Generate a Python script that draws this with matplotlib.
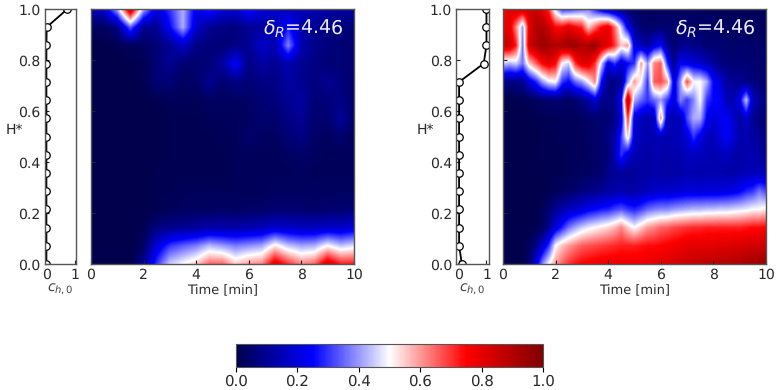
import numpy as np
import matplotlib
matplotlib.use("Agg")
import matplotlib.pyplot as plt

W, H_PX = 778, 390
INK = "#2a2a2a"
SPINE = "#555555"

heights = [1.0, 0.929, 0.857, 0.786, 0.714, 0.643, 0.571, 0.5, 0.429, 0.357, 0.286, 0.214, 0.143, 0.071, 0.0]
conc_left = [0.74, 0.01, 0.0, 0.0, 0.0, 0.0, 0.0, 0.0, 0.0, 0.0, 0.0, 0.0, 0.0, 0.0, 0.0]
conc_right = [1.0, 1.0, 1.0, 0.9, 0.02, 0.02, 0.02, 0.02, 0.02, 0.02, 0.02, 0.02, 0.02, 0.02, 0.12]

time_left = [i * 0.5 for i in range(21)]
left_rows = [
    [.16,.18,.42,.88,.42,.20,.30,.42,.22,.28,.20,.20,.27,.20,.18,.15,.15,.15,.12,.12,.12],
    [.03,.03,.08,.34,.10,.10,.25,.42,.18,.10,.08,.07,.10,.12,.14,.27,.14,.10,.08,.07,.06],
    [.00,.00,.01,.02,.03,.06,.10,.17,.08,.07,.06,.08,.10,.18,.14,.38,.14,.09,.07,.06,.05],
    [.00,.00,.00,.01,.01,.06,.10,.05,.05,.06,.12,.25,.08,.12,.10,.14,.10,.08,.06,.06,.05],
    [.00,.00,.00,.00,.01,.06,.06,.03,.04,.10,.05,.08,.06,.08,.08,.12,.10,.07,.10,.07,.04],
    [.00,.00,.00,.00,.00,.01,.02,.02,.02,.03,.03,.03,.04,.06,.07,.10,.12,.06,.07,.08,.04],
    [.00,.00,.00,.00,.00,.00,.01,.01,.01,.02,.02,.02,.03,.05,.05,.08,.10,.05,.05,.11,.04],
    [.00,.00,.00,.00,.00,.00,.01,.01,.01,.01,.02,.02,.05,.03,.03,.06,.08,.04,.03,.05,.02],
    [.00,.00,.00,.00,.00,.00,.01,.01,.01,.01,.01,.02,.02,.02,.02,.03,.04,.03,.02,.02,.02],
    [.00,.00,.00,.00,.00,.01,.01,.01,.01,.01,.01,.02,.02,.02,.02,.02,.03,.02,.02,.02,.02],
    [.00,.00,.00,.00,.00,.01,.01,.02,.02,.02,.02,.02,.02,.02,.03,.03,.03,.03,.03,.03,.03],
    [.00,.00,.00,.00,.00,.01,.02,.03,.03,.03,.04,.03,.04,.04,.05,.05,.05,.04,.05,.05,.06],
    [.00,.00,.00,.00,.01,.07,.09,.10,.11,.13,.13,.13,.14,.15,.18,.17,.16,.16,.17,.17,.20],
    [.00,.00,.00,.00,.03,.20,.30,.34,.37,.43,.40,.37,.39,.41,.52,.44,.41,.42,.50,.44,.47],
    [.00,.00,.00,.00,.10,.30,.45,.50,.55,.65,.65,.55,.60,.62,.80,.70,.62,.65,.82,.72,.72],
]

time_right = [i * 0.25 for i in range(41)]
right_rows = [
    [.75,.80,.85,.85,.85,.85,.80,.70,.45,.30,.30,.33,.35,.38,.28,.20,.13,.10,.07,.04,.03,.03,.03,.03,.03,.03,.03,.03,.03,.03,.03,.03,.02,.02,.02,.02,.02,.02,.02,.02,.02],
    [.78,.80,.62,.40,.80,.90,.90,.85,.75,.75,.80,.75,.72,.55,.65,.75,.80,.65,.45,.22,.10,.05,.04,.04,.05,.05,.05,.05,.05,.04,.04,.04,.04,.04,.03,.03,.03,.03,.03,.03,.03],
    [.85,.85,.72,.36,.85,.90,.95,.92,.90,.92,.95,.95,.90,.92,.95,.85,.80,.70,.55,.60,.20,.15,.12,.20,.25,.10,.05,.08,.10,.08,.08,.05,.05,.05,.05,.04,.05,.05,.04,.04,.04],
    [.45,.42,.45,.36,.55,.65,.75,.80,.75,.50,.45,.70,.80,.80,.70,.45,.20,.30,.18,.25,.30,.60,.40,.62,.66,.30,.08,.25,.22,.20,.18,.15,.12,.08,.07,.06,.06,.06,.05,.05,.05],
    [.08,.08,.08,.10,.20,.28,.40,.48,.50,.30,.25,.35,.40,.50,.62,.25,.08,.08,.10,.40,.60,.50,.30,.66,.68,.60,.20,.40,.68,.50,.50,.42,.25,.20,.12,.10,.10,.08,.07,.06,.05],
    [.00,.00,.01,.01,.02,.03,.04,.05,.05,.05,.04,.05,.08,.12,.20,.10,.08,.10,.25,.90,.42,.35,.30,.35,.40,.30,.20,.38,.30,.38,.50,.30,.25,.25,.15,.14,.22,.45,.16,.10,.08],
    [.00,.00,.00,.00,.00,.01,.01,.02,.02,.02,.02,.02,.03,.04,.05,.05,.06,.08,.20,.70,.20,.16,.14,.16,.62,.16,.14,.15,.32,.42,.42,.24,.20,.22,.25,.18,.12,.18,.10,.07,.07],
    [.00,.00,.00,.00,.00,.00,.01,.01,.01,.02,.02,.02,.02,.03,.04,.05,.08,.12,.30,.55,.18,.15,.14,.14,.15,.14,.15,.16,.20,.30,.22,.16,.16,.20,.25,.20,.14,.14,.12,.10,.09],
    [.00,.00,.00,.00,.00,.00,.01,.01,.01,.01,.02,.02,.02,.03,.04,.05,.06,.15,.30,.20,.14,.14,.12,.14,.14,.12,.14,.14,.16,.16,.16,.15,.14,.15,.16,.14,.12,.14,.14,.12,.10],
    [.00,.00,.00,.00,.00,.00,.00,.01,.01,.01,.02,.02,.03,.03,.04,.05,.09,.10,.11,.10,.11,.12,.12,.13,.13,.12,.13,.13,.14,.14,.13,.14,.14,.14,.13,.13,.14,.15,.15,.15,.16],
    [.00,.00,.00,.00,.00,.00,.00,.01,.02,.03,.04,.05,.07,.08,.09,.10,.12,.13,.14,.13,.13,.14,.16,.17,.18,.18,.18,.19,.20,.20,.20,.20,.20,.20,.21,.22,.24,.28,.30,.36,.32],
    [.00,.00,.00,.00,.00,.00,.02,.05,.10,.13,.16,.18,.20,.23,.25,.27,.28,.31,.33,.30,.28,.31,.35,.37,.38,.38,.40,.41,.42,.43,.43,.44,.44,.45,.45,.46,.47,.48,.50,.50,.52],
    [.00,.00,.00,.00,.00,.01,.03,.10,.20,.28,.36,.41,.45,.48,.50,.52,.54,.57,.62,.55,.50,.55,.60,.62,.65,.66,.68,.69,.70,.71,.71,.72,.72,.72,.72,.72,.72,.73,.74,.74,.75],
    [.00,.00,.00,.00,.03,.08,.18,.30,.50,.56,.60,.63,.66,.67,.68,.69,.70,.71,.72,.72,.72,.73,.74,.74,.75,.76,.77,.78,.80,.80,.80,.80,.80,.81,.81,.82,.82,.83,.84,.84,.85],
    [.00,.00,.00,.01,.05,.20,.38,.50,.60,.65,.70,.73,.75,.76,.77,.78,.78,.78,.78,.78,.78,.78,.79,.80,.80,.81,.83,.84,.85,.86,.87,.88,.88,.89,.89,.90,.90,.92,.93,.94,.95],
]
cbar_ticks = [0.0, 0.2, 0.4, 0.6, 0.8, 1.0]
h_ticks = [0.0, 0.2, 0.4, 0.6, 0.8, 1.0]
t_ticks = [0, 2, 4, 6, 8, 10]
annotation = r"$\delta_R$=4.46"

plt.rcParams["font.family"] = "DejaVu Sans"
plt.rcParams["text.hinting"] = "no_hinting"
plt.rcParams["text.hinting_factor"] = 1
fig = plt.figure(figsize=(W / 100, H_PX / 100), dpi=100)


def box(x0, x1, y0, y1):
    return [x0 / W, 1 - y1 / H_PX, (x1 - x0) / W, (y1 - y0) / H_PX]


def style(ax):
    for s in ax.spines.values():
        s.set_color(SPINE)
        s.set_linewidth(1.0)
    ax.tick_params(direction="in", length=3, width=0.8, color="#222222",
                   labelsize=9.8, labelcolor=INK, pad=3)


def panel(strip_box, map_box, conc, times, rows, xlim):
    a = fig.add_axes(box(*strip_box))
    a.plot(conc, heights, "-o", color="black", lw=1.3, ms=5.4,
           mfc="white", mec="black", mew=0.9)
    a.set_xlim(*xlim)
    a.set_ylim(0, 1)
    a.set_xticks([0, 1])
    a.set_yticks(h_ticks)
    a.set_yticklabels([f"{v:.1f}" for v in h_ticks])
    a.set_ylabel("H*", fontsize=10, color=INK, rotation=0, labelpad=3)
    a.set_xlabel(r"$c_{h,0}$", fontsize=10, color="#444444", labelpad=0)
    style(a)

    m = fig.add_axes(box(*map_box))
    dt = times[1] - times[0]
    dh = heights[0] - heights[1]
    im = m.imshow(np.array(rows), cmap="seismic", vmin=0, vmax=1, aspect="auto",
                  interpolation="bilinear", origin="upper",
                  extent=(times[0] - dt / 2, times[-1] + dt / 2,
                          heights[-1] - dh / 2, heights[0] + dh / 2))
    m.set_xlim(0, 10)
    m.set_ylim(0, 1)
    m.set_xticks(t_ticks)
    m.set_yticks(h_ticks)
    m.set_yticklabels([])
    m.set_xlabel("Time [min]", fontsize=9.5, color=INK, labelpad=2)
    m.text(0.96, 0.925, annotation, transform=m.transAxes, color="#eeeeee",
           fontsize=14, ha="right", va="center")
    style(m)
    return im


im = panel((44.7, 76.3, 9, 264), (91, 354, 9, 264), conc_left, time_left, left_rows, (-0.06, 1.05))
panel((456.3, 488.7, 9, 264), (503, 766, 9, 264), conc_right, time_right, right_rows, (-0.08, 1.08))

cax = fig.add_axes(box(236, 543, 344, 367))
cb = fig.colorbar(im, cax=cax, orientation="horizontal", ticks=cbar_ticks)
cb.ax.set_xticklabels([f"{v:.1f}" for v in cbar_ticks])
cb.ax.tick_params(labelsize=10.5, length=3.5, width=0.8, labelcolor=INK, pad=2)
cb.outline.set_edgecolor(SPINE)

fig.savefig("out.png", dpi=100)
